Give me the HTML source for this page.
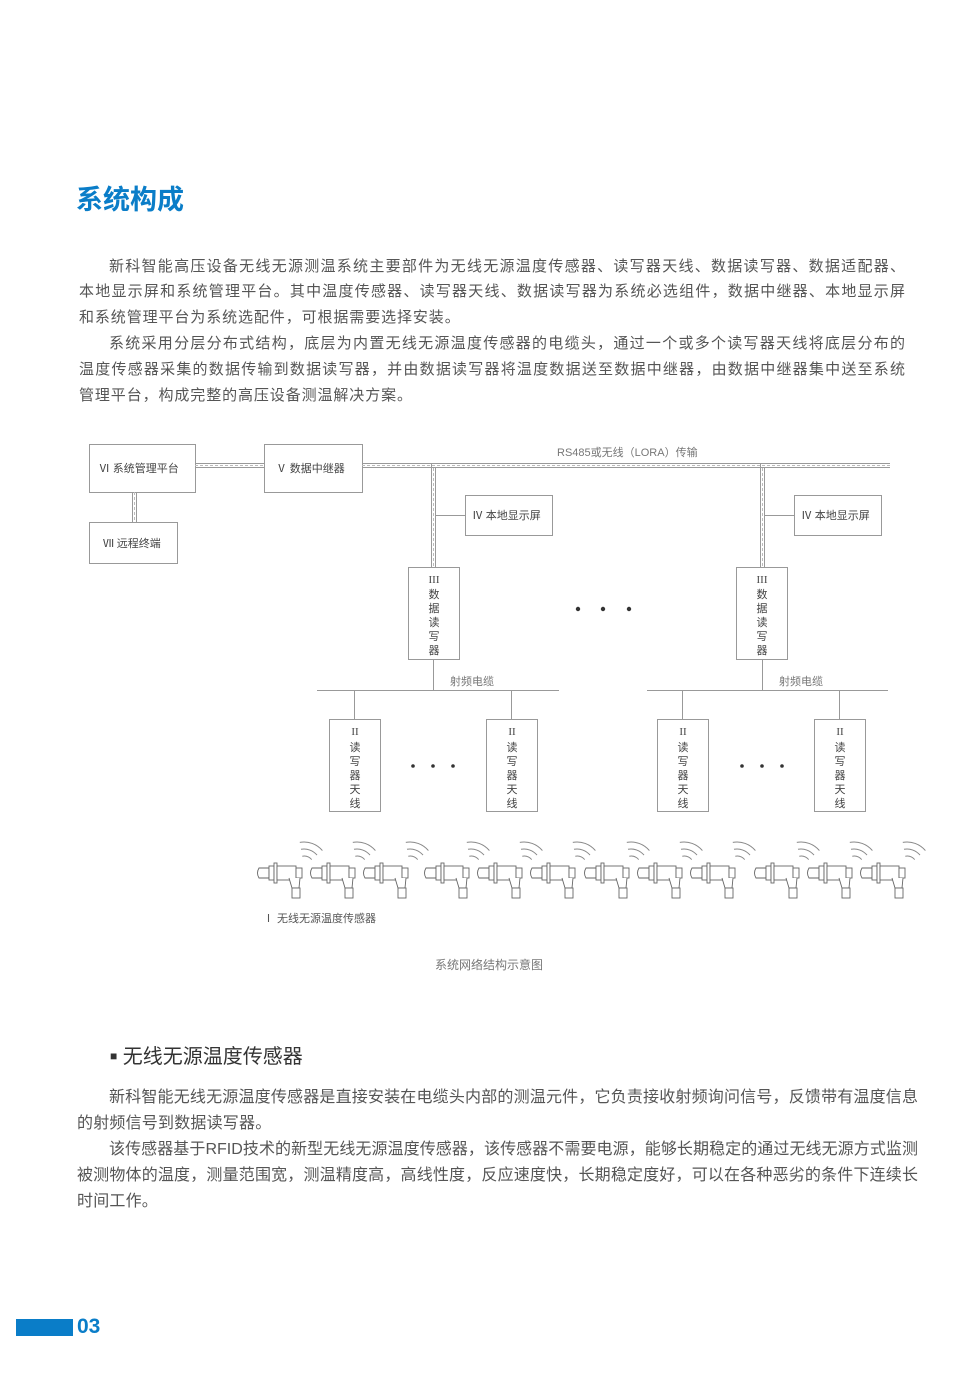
<!DOCTYPE html>
<html><head><meta charset="utf-8">
<style>
body{margin:0;background:#fff;}
#p{position:relative;width:980px;height:1393px;overflow:hidden;font-family:"Liberation Sans","Noto Sans CJK SC",sans-serif;}
.t{position:absolute;white-space:nowrap;color:#555;}
.l{position:absolute;white-space:nowrap;color:#555;font-size:15px;text-align:justify;text-align-last:justify;height:20px;line-height:20px;}
.m{position:absolute;white-space:nowrap;color:#555;font-size:16px;text-align:justify;text-align-last:justify;height:22px;line-height:22px;}
</style></head><body><div id="p">
<div class="t" style="left:76px;top:183px;font-size:27px;font-weight:bold;color:#0a7dc8;line-height:34px;">系统构成</div>

<div class="l" style="left:109px;top:257px;width:796px;">新科智能高压设备无线无源测温系统主要部件为无线无源温度传感器、读写器天线、数据读写器、数据适配器、</div>
<div class="l" style="left:79px;top:282px;width:826px;">本地显示屏和系统管理平台。其中温度传感器、读写器天线、数据读写器为系统必选组件，数据中继器、本地显示屏</div>
<div class="t" style="left:79px;top:308px;font-size:15px;line-height:20px;letter-spacing:0.9px;">和系统管理平台为系统选配件，可根据需要选择安装。</div>
<div class="l" style="left:109px;top:334px;width:796px;">系统采用分层分布式结构，底层为内置无线无源温度传感器的电缆头，通过一个或多个读写器天线将底层分布的</div>
<div class="l" style="left:79px;top:360px;width:826px;">温度传感器采集的数据传输到数据读写器，并由数据读写器将温度数据送至数据中继器，由数据中继器集中送至系统</div>
<div class="t" style="left:79px;top:386px;font-size:15px;line-height:20px;letter-spacing:0.9px;">管理平台，构成完整的高压设备测温解决方案。</div>

<svg style="position:absolute;left:0;top:0" width="980" height="1000" font-family="Liberation Serif,Noto Sans CJK SC,sans-serif">
<g fill="none" stroke="#999" stroke-width="1">
<rect x="89.5" y="444.5" width="106" height="48"/>
<rect x="264.5" y="444.5" width="98" height="48"/>
<rect x="89.5" y="522.5" width="88" height="41"/>
<rect x="465.5" y="495.5" width="87" height="40"/>
<rect x="794.5" y="495.5" width="87" height="40"/>
<rect x="408.5" y="567.5" width="51" height="92"/>
<rect x="736.5" y="567.5" width="51" height="92"/>
<rect x="329.5" y="719.5" width="51" height="92"/>
<rect x="486.5" y="719.5" width="51" height="92"/>
<rect x="657.5" y="719.5" width="51" height="92"/>
<rect x="814.5" y="719.5" width="51" height="92"/>
<path d="M195 463.5H264M195 467.5H264M362 463.5H890M362 467.5H890M132.5 492V522M136.5 492V522M431.5 464V567M435.5 468V567M760.5 464V567M764.5 468V567"/>
<path d="M435 515.5H465M764 515.5H794"/>
<path d="M433.5 659V690M762.5 659V690M317 690.5H559M647 690.5H888M354.5 690V719M511.5 690V719M682.5 690V719M839.5 690V719"/>
</g>
<g fill="none" stroke="#bbb" stroke-dasharray="3,2"><path d="M195 465.5H264M362 465.5H890M134.5 492V522M433.5 468V567M762.5 468V567"/></g>
<g fill="#333"><circle cx="578" cy="609" r="2.2"/><circle cx="603" cy="609" r="2.2"/><circle cx="629" cy="609" r="2.2"/>
<circle cx="413" cy="766" r="1.8"/><circle cx="433" cy="766" r="1.8"/><circle cx="453" cy="766" r="1.8"/>
<circle cx="742" cy="766" r="1.8"/><circle cx="762" cy="766" r="1.8"/><circle cx="782" cy="766" r="1.8"/></g>
<g font-size="11" fill="#444">
<text x="99" y="472">Ⅵ 系统管理平台</text>
<text x="276" y="472">Ⅴ 数据中继器</text>
<text x="103" y="547">Ⅶ 远程终端</text>
<text x="472" y="519">Ⅳ 本地显示屏</text>
<text x="801" y="519">Ⅳ 本地显示屏</text>
</g>
<g font-size="11" fill="#444" text-anchor="middle">
<text x="434" y="583">III</text><text x="434" y="598">数</text><text x="434" y="612">据</text><text x="434" y="626">读</text><text x="434" y="640">写</text><text x="434" y="654">器</text>
<text x="762" y="583">III</text><text x="762" y="598">数</text><text x="762" y="612">据</text><text x="762" y="626">读</text><text x="762" y="640">写</text><text x="762" y="654">器</text>
<g id="ant"><text x="355" y="735">II</text><text x="355" y="751">读</text><text x="355" y="765">写</text><text x="355" y="779">器</text><text x="355" y="793">天</text><text x="355" y="807">线</text></g>
<use href="#ant" x="157"/><use href="#ant" x="328"/><use href="#ant" x="485"/>
</g>
<g font-size="11" fill="#777" font-family="Liberation Sans,Noto Sans CJK SC,sans-serif">
<text x="557" y="456">RS485或无线（LORA）传输</text>
<text x="450" y="685">射频电缆</text>
<text x="779" y="685">射频电缆</text>
<text x="263" y="922" fill="#555">Ⅰ 无线无源温度传感器</text>
<text x="489" y="969" text-anchor="middle" font-size="12">系统网络结构示意图</text>
</g>
<defs><g id="s">
<g fill="#fff" stroke="#666" stroke-width="0.9">
<path d="M259 868h10v10h-10q-3-5 0-10z"/>
<rect x="269" y="866" width="5" height="14"/>
<rect x="274" y="863" width="3" height="20"/>
<rect x="277" y="866" width="19" height="14"/>
<rect x="296" y="868" width="6" height="10"/>
<path d="M289 878l3 10h7l1-10"/>
<rect x="292" y="888" width="8" height="10"/>
</g>
<path d="M302.3 856.2A10 10 0 0 1 311.7 859.6M301 849.3A17 17 0 0 1 317 855.1M299.8 842.4A24 24 0 0 1 322.4 850.6" stroke="#888" stroke-width="1" fill="none"/>
</g></defs>
<use href="#s"/><use href="#s" x="53"/><use href="#s" x="106"/>
<use href="#s" x="167"/><use href="#s" x="220"/><use href="#s" x="273"/>
<use href="#s" x="327"/><use href="#s" x="380"/><use href="#s" x="433"/>
<use href="#s" x="497"/><use href="#s" x="550"/><use href="#s" x="603"/>
</svg>

<div class="t" style="left:110px;top:1043px;font-size:20px;line-height:26px;color:#333;"><span style="font-size:12px;vertical-align:3px;">■</span> 无线无源温度传感器</div>
<div class="m" style="left:109px;top:1087px;width:809px;">新科智能无线无源温度传感器是直接安装在电缆头内部的测温元件，它负责接收射频询问信号，反馈带有温度信息</div>
<div class="t" style="left:77px;top:1113px;font-size:16px;line-height:22px;letter-spacing:0.2px;">的射频信号到数据读写器。</div>
<div class="m" style="left:109px;top:1139px;width:809px;">该传感器基于RFID技术的新型无线无源温度传感器，该传感器不需要电源，能够长期稳定的通过无线无源方式监测</div>
<div class="m" style="left:77px;top:1165px;width:841px;">被测物体的温度，测量范围宽，测温精度高，高线性度，反应速度快，长期稳定度好，可以在各种恶劣的条件下连续长</div>
<div class="t" style="left:77px;top:1191px;font-size:16px;line-height:22px;letter-spacing:0.2px;">时间工作。</div>

<div style="position:absolute;left:16px;top:1319px;width:57px;height:17px;background:#0a7dc8;"></div>
<div class="t" style="left:77px;top:1315px;font-size:21px;font-weight:bold;color:#0a7dc8;line-height:24px;">03</div>
</div></body></html>
